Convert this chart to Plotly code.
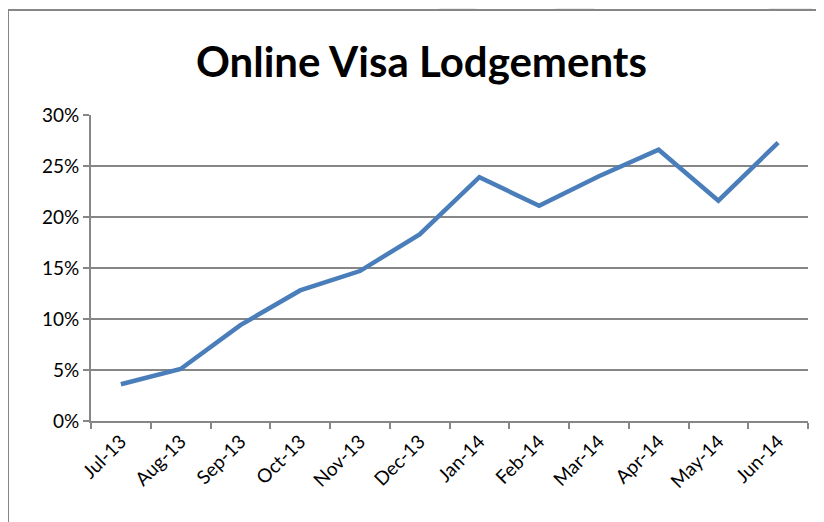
import plotly.graph_objects as go

months = ["Jul-13", "Aug-13", "Sep-13", "Oct-13", "Nov-13", "Dec-13",
          "Jan-14", "Feb-14", "Mar-14", "Apr-14", "May-14", "Jun-14"]
online_share = [0.036, 0.051, 0.094, 0.128, 0.147, 0.183,
                0.239, 0.211, 0.240, 0.266, 0.216, 0.273]
y_ticks = [0, 0.05, 0.10, 0.15, 0.20, 0.25, 0.30]
y_tick_labels = ["0%", "5%", "10%", "15%", "20%", "25%", "30%"]
title_text = "Online Visa Lodgements"

OFF = 8  # page body margin
W, H = 824 - OFF, 522 - OFF
L, T = 91 - OFF, 115 - OFF
pw, ph = 717, 306
R, B = W - L - pw, H - T - ph

def px(x):  # page pixel x -> paper
    return (x - OFF - L) / pw

def py(y):  # page pixel y -> paper
    return (T + ph - (y - OFF)) / ph

grey = "#868686"
fig = go.Figure()
fig.add_trace(go.Scatter(
    x=months, y=online_share, mode="lines",
    line=dict(color="#4A7EBB", width=4.5),
    hoverinfo="skip", showlegend=False))

shapes = []
wm = "#ebebeb"
for (x0, x1, x2, x3) in [(428, 470, 476, 440), (548, 590, 594, 556), (756, 812, 812, 770)]:
    shapes.append(dict(type="path", xref="paper", yref="paper",
                       path=f"M {px(x0)} {py(0)} L {px(x1)} {py(0)} L {px(x2)} {py(9)} L {px(x3)} {py(9)} Z",
                       fillcolor=wm, line=dict(width=0), layer="below"))
for (y0, y1) in [(328, 368), (455, 510)]:
    shapes.append(dict(type="path", xref="paper", yref="paper",
                       path=f"M {px(0)} {py(y0)} L {px(7)} {py(y0 + 6)} L {px(7)} {py(y1 - 6)} L {px(0)} {py(y1)} Z",
                       fillcolor=wm, line=dict(width=0), layer="below"))
shapes.append(dict(type="line", xref="paper", yref="paper",
                   x0=px(8), x1=px(840), y0=py(10), y1=py(10),
                   line=dict(color=grey, width=2)))
shapes.append(dict(type="line", xref="paper", yref="paper",
                   x0=px(8), x1=px(8), y0=py(10), y1=py(540),
                   line=dict(color=grey, width=2)))

fig.update_layout(
    width=W, height=H, autosize=False,
    margin=dict(l=L, r=R, t=T, b=B),
    paper_bgcolor="white", plot_bgcolor="white",
    shapes=shapes,
    annotations=[dict(text=f"<b>{title_text}</b>", xref="paper", yref="paper",
                      x=px(421), y=py(61), xanchor="center", yanchor="middle",
                      showarrow=False,
                      font=dict(family="Lato", size=42, color="black"))],
    xaxis=dict(type="category", range=[-0.5, 11.5], tickson="boundaries",
               ticks="outside", ticklen=6, tickcolor=grey, tickwidth=1.5,
               showline=True, linecolor=grey, linewidth=2,
               showgrid=False, tickangle=-45,
               tickfont=dict(family="Lato", size=19, color="black"),
               fixedrange=True),
    yaxis=dict(range=[0, 0.30], tickvals=y_ticks, ticktext=y_tick_labels,
               ticks="outside", ticklen=6, tickcolor=grey, tickwidth=1.5,
               showline=True, linecolor=grey, linewidth=2,
               showgrid=True, gridcolor=grey, gridwidth=1.5,
               zeroline=False,
               tickfont=dict(family="Lato", size=19, color="black"),
               fixedrange=True),
)
fig.write_html("out.html")
